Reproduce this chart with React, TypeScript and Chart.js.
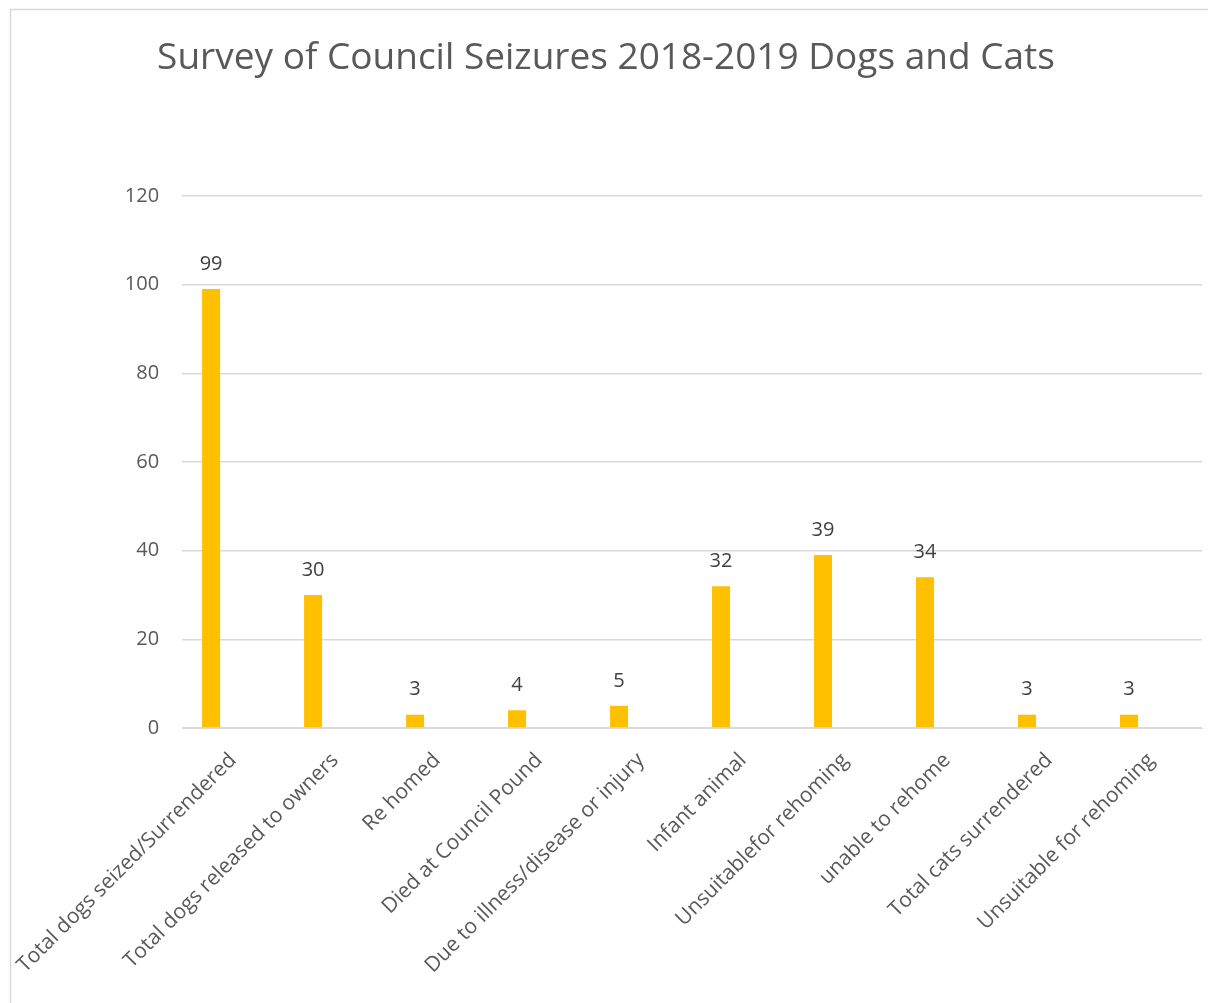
import React, { useEffect, useRef } from "react";
import { Chart, registerables } from "chart.js";

Chart.register(...registerables);

const TITLE = "Survey of Council Seizures 2018-2019 Dogs and Cats";
const categories = [
  "Total dogs seized/Surrendered",
  "Total dogs released to owners",
  "Re homed",
  "Died at Council Pound",
  "Due to illness/disease or injury",
  "Infant animal",
  "Unsuitablefor rehoming",
  "unable to rehome",
  "Total cats surrendered",
  "Unsuitable for rehoming",
];
const seriesValues = [99, 30, 3, 4, 5, 32, 39, 34, 3, 3];
// empty second series (occupies the second slot of each cluster, as in the original)
const emptySeries = [null, null, null, null, null, null, null, null, null, null];
const yTicks = { min: 0, max: 120, step: 20 };

const FONT = "'Open Sans', 'DejaVu Sans', sans-serif";

const framePlugin = {
  id: "frame",
  beforeDraw(chart: any) {
    const ctx = chart.ctx;
    ctx.save();
    ctx.fillStyle = "#ffffff";
    ctx.fillRect(0, 0, chart.width, chart.height);
    ctx.strokeStyle = "#d9d9d9";
    ctx.lineWidth = 1.5;
    ctx.beginPath();
    ctx.moveTo(10.5, chart.height + 5);
    ctx.lineTo(10.5, 9.5);
    ctx.lineTo(chart.width + 5, 9.5);
    ctx.stroke();
    ctx.restore();
  },
};

const dataLabelPlugin = {
  id: "dataLabels",
  afterDatasetsDraw(chart: any) {
    const ctx = chart.ctx;
    const meta = chart.getDatasetMeta(0);
    const data = chart.data.datasets[0].data;
    ctx.save();
    ctx.fillStyle = "#404040";
    ctx.font = `20px ${FONT}`;
    ctx.textAlign = "center";
    ctx.textBaseline = "middle";
    meta.data.forEach((bar: any, i: number) => {
      ctx.fillText(String(data[i]), bar.x, bar.y - 25);
    });
    ctx.restore();
  },
};

export default function App() {
  const ref = useRef<HTMLCanvasElement>(null);
  useEffect(() => {
    if (!ref.current) return;
    const chart = new Chart(ref.current, {
      type: "bar",
      data: {
        labels: categories,
        datasets: [
          {
            label: "Series1",
            data: seriesValues,
            backgroundColor: "#FFC000",
            categoryPercentage: 0.862,
            barPercentage: 0.41,
          },
          {
            label: "Series2",
            data: emptySeries as any,
            backgroundColor: "#ED7D31",
            categoryPercentage: 0.862,
            barPercentage: 0.41,
          },
        ],
      },
      options: {
        responsive: false,
        animation: false,
        devicePixelRatio: 1,
        layout: { padding: { left: 10, right: 6, top: 0, bottom: 20 } },
        plugins: {
          legend: { display: false },
          tooltip: { enabled: false },
          title: {
            display: true,
            text: TITLE,
            color: "#595959",
            font: { family: FONT, size: 37, weight: "normal" as any },
            padding: { top: 36, bottom: 115.6 },
          },
        },
        scales: {
          x: {
            grid: { display: false },
            border: { color: "#d9d9d9" },
            ticks: {
              color: "#595959",
              font: { family: FONT, size: 21 },
              maxRotation: 45,
              minRotation: 45,
              autoSkip: false,
              padding: 12,
            },
            afterFit: (s: any) => {
              s.height = 255;
            },
          },
          y: {
            min: yTicks.min,
            max: yTicks.max,
            grid: { color: "#d9d9d9", lineWidth: 1.5, drawTicks: false },
            border: { display: false },
            ticks: {
              stepSize: yTicks.step,
              color: "#595959",
              font: { family: FONT, size: 20 },
              padding: 23,
            },
            afterFit: (s: any) => {
              s.width = 171;
            },
          },
        },
      },
      plugins: [framePlugin, dataLabelPlugin],
    });
    return () => chart.destroy();
  }, []);
  return (
    <div style={{ position: "absolute", left: 0, top: 0, width: 1208, height: 1003 }}>
      <canvas ref={ref} width={1208} height={1003} />
    </div>
  );
}
